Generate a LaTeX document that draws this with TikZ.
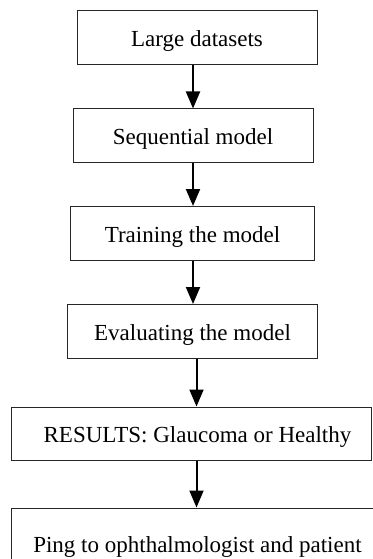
\documentclass[tikz,border=0pt]{standalone}
\usepackage{fontspec}
\setmainfont{Liberation Serif}
\usetikzlibrary{arrows.meta}

\begin{document}
\begin{tikzpicture}[x=1pt,y=-1pt,>={Triangle[width=14pt,length=17pt]},
    box/.style={draw=black!85,line width=1pt,rectangle,inner sep=0pt,
        text height=18pt,text depth=0pt,font=\fontsize{23}{27}\selectfont},
    flow/.style={->,line width=2pt}]

\useasboundingbox (0,0) rectangle (372,559);

\node [box,minimum width=240pt,minimum height=54pt] (data) at (197,38) {Large datasets};
\node [box,minimum width=240pt,minimum height=53pt] (seq) at (193,135.5) {Sequential model};
\node [box,minimum width=244pt,minimum height=54pt] (train) at (192.5,233.5) {Training the model};
\node [box,minimum width=250pt,minimum height=54pt] (eval) at (192.5,331.5) {Evaluating the model};
\node [box,minimum width=360pt,minimum height=53pt] (res) at (191,433.5) {\hspace*{13pt}RESULTS: Glaucoma or Healthy};
\node [box,minimum width=373pt,minimum height=70pt] (ping) at (197.5,543) {Ping to ophthalmologist and patient};

\coordinate (up) at (193,0);
\coordinate (low) at (196.5,0);

\draw [flow] (data.south -| up) -- (seq.north -| up);
\draw [flow] (seq.south -| up) -- (train.north -| up);
\draw [flow] (train.south -| up) -- (eval.north -| up);
\draw [flow] (eval.south -| low) -- (res.north -| low);
\draw [flow] (res.south -| low) -- (ping.north -| low);

\end{tikzpicture}
\end{document}
